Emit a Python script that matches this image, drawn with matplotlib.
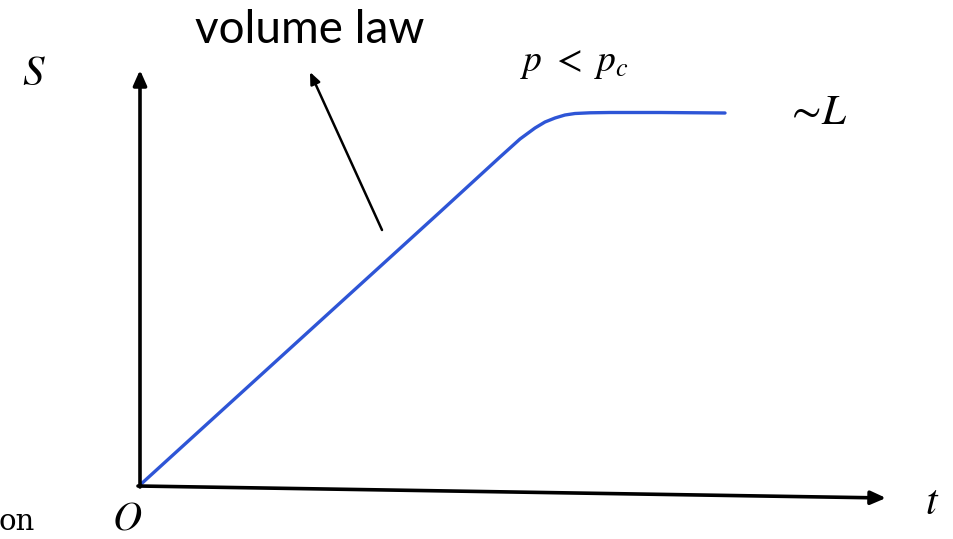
import matplotlib.pyplot as plt

plt.rcParams['mathtext.fontset'] = 'stix'

# curve (t, S in arbitrary units)
t = [0, 1, 2, 3, 3.6, 3.8, 3.95, 4.05, 4.15, 4.25, 4.35, 4.5, 4.7, 5.2, 5.85]
S = [0, 0.91, 1.82, 2.73, 3.28, 3.46, 3.57, 3.63, 3.67, 3.70, 3.715, 3.722, 3.725, 3.725, 3.72]

fig = plt.figure(figsize=(9.54, 5.39), dpi=100)
ax = fig.add_axes([0, 0, 1, 1])
ax.set_xlim(-1.4, 8.14)
ax.set_ylim(-0.54, 4.85)
ax.axis('off')

# axes arrows
arrow_kw = dict(arrowstyle='-|>,head_length=0.9,head_width=0.4', color='black', lw=2.6,
                shrinkA=0, shrinkB=0)
ax.annotate('', xy=(0, 4.15), xytext=(0, -0.02), arrowprops=arrow_kw)
ax.annotate('', xy=(7.46, -0.13), xytext=(-0.02, -0.01), arrowprops=arrow_kw)

ax.plot(t, S, color='#2e55d6', lw=2.4, solid_capstyle='round', solid_joinstyle='round')

# annotation arrow for volume law
ax.annotate('', xy=(1.70, 4.13), xytext=(2.42, 2.55),
            arrowprops=dict(arrowstyle='-|>,head_length=0.7,head_width=0.3',
                            color='black', lw=1.8, shrinkA=0, shrinkB=0))
ax.text(1.70, 4.55, 'volume law', fontsize=33, family='Lato', ha='center', va='center')

ax.text(-1.06, 4.12, '$S$', fontsize=31, ha='center', va='center')
ax.text(4.34, 4.22, r'$p\ <\ p_c$', fontsize=27, ha='center', va='center')
ax.text(6.76, 3.73, r'$\sim\!L$', fontsize=31, ha='center', va='center')
ax.text(7.92, -0.17, '$t$', fontsize=30, ha='center', va='center')
ax.text(-0.13, -0.34, '$O$', fontsize=29, ha='center', va='center')
ax.text(-1.23, -0.37, 'on', fontsize=21, family='DejaVu Serif', ha='center', va='center')

fig.savefig('out.png', dpi=100)
